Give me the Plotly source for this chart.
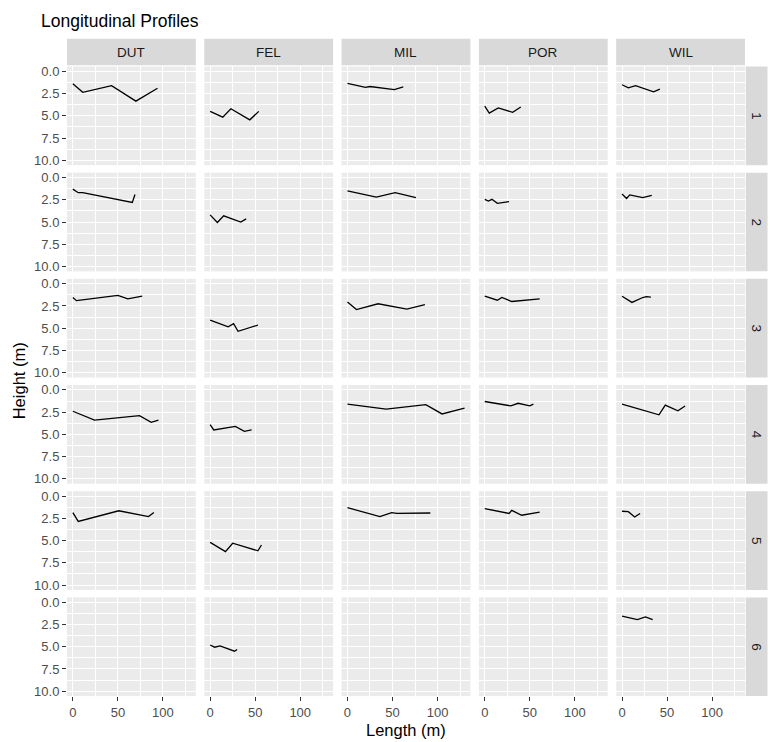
import plotly.graph_objects as go

# ---------------- data ----------------
SITES = ["DUT", "FEL", "MIL", "POR", "WIL"]
REACHES = [1, 2, 3, 4, 5, 6]

X_TICKS = [0, 50, 100]
X_TICK_TEXT = ["0", "50", "100"]
X_MINOR = [25, 75, 125]
Y_TICKS = [0, 2.5, 5, 7.5, 10]
Y_TICK_TEXT = ["0.0", "2.5", "5.0", "7.5", "10.0"]
Y_MINOR = [1.25, 3.75, 6.25, 8.75]

DUT_LEN = {1: [0, 11, 43, 70, 94], 2: [0, 6, 11, 66, 69], 3: [0, 4, 50, 61, 77],
           4: [0, 24, 74, 87, 95], 5: [0, 6, 51, 84, 90]}
DUT_HT = {1: [1.4, 2.35, 1.6, 3.35, 1.9], 2: [1.3, 1.7, 1.7, 2.8, 1.9], 3: [1.55, 1.9, 1.3, 1.7, 1.4],
          4: [2.4, 3.4, 2.9, 3.65, 3.4], 5: [1.85, 2.85, 1.65, 2.3, 1.85]}

FEL_LEN = {1: [0, 14, 23, 44, 54], 2: [0, 8, 15, 34, 40], 3: [0, 20, 26, 31, 53],
           4: [0, 4, 28, 38, 46], 5: [0, 17, 25, 53, 57], 6: [0, 5, 11, 27, 30]}
FEL_HT = {1: [4.5, 5.15, 4.2, 5.45, 4.5], 2: [4.2, 5.05, 4.3, 5.0, 4.65], 3: [4.1, 4.85, 4.5, 5.35, 4.65],
          4: [3.9, 4.5, 4.1, 4.65, 4.5], 5: [5.2, 6.25, 5.3, 6.15, 5.5], 6: [4.8, 5.05, 4.9, 5.5, 5.3]}

MIL_LEN = {1: [0, 20, 25, 52, 62], 2: [0, 32, 53, 76], 3: [0, 10, 34, 66, 86],
           4: [0, 43, 87, 105, 130], 5: [0, 36, 49, 55, 92]}
MIL_HT = {1: [1.35, 1.8, 1.7, 2.05, 1.75], 2: [1.5, 2.2, 1.7, 2.25], 3: [2.05, 2.9, 2.25, 2.85, 2.35],
          4: [1.6, 2.15, 1.65, 2.7, 2.05], 5: [1.3, 2.3, 1.85, 1.95, 1.9]}

POR_LEN = {1: [0, 5, 15, 31, 40], 2: [0, 4, 8, 14, 27], 3: [0, 14, 19, 30, 61],
           4: [0, 29, 37, 50, 54], 5: [0, 27, 30, 41, 61]}
POR_HT = {1: [3.9, 4.7, 4.1, 4.6, 4.0], 2: [2.45, 2.65, 2.45, 2.9, 2.7], 3: [1.4, 1.85, 1.55, 2.0, 1.7],
          4: [1.3, 1.8, 1.5, 1.8, 1.6], 5: [1.4, 1.95, 1.6, 2.15, 1.8]}

WIL_LEN = {1: [0, 7, 15, 35, 42], 2: [0, 5, 8.5, 23, 33], 3: [0, 11, 23, 27, 32],
           4: [0, 41, 48, 62, 70], 5: [0, 7, 14, 20], 6: [0, 17, 26, 34]}
WIL_HT = {1: [1.5, 1.85, 1.6, 2.3, 2.0], 2: [1.85, 2.35, 1.95, 2.25, 2.0], 3: [1.4, 2.1, 1.55, 1.45, 1.5],
          4: [1.6, 2.8, 1.7, 2.35, 1.8], 5: [1.7, 1.75, 2.35, 1.95], 6: [1.55, 1.95, 1.65, 1.95]}

LENGTHS = {"DUT": DUT_LEN, "FEL": FEL_LEN, "MIL": MIL_LEN, "POR": POR_LEN, "WIL": WIL_LEN}
HEIGHTS = {"DUT": DUT_HT, "FEL": FEL_HT, "MIL": MIL_HT, "POR": POR_HT, "WIL": WIL_HT}

# ---------------- layout geometry (px) ----------------
W, H = 770, 742
PANEL_L, PANEL_W, COL_STEP = 67.0, 128.8, 137.3
ROW_T, PANEL_H, ROW_STEP = 64.0, 99.5, 107.05
X_RANGE = [-6.5, 136.5]
Y_RANGE = [10.55, -0.55]
FONT = "Liberation Sans, Arial, sans-serif"
TICK_FONT = dict(family=FONT, size=13, color="#4D4D4D")

fig = go.Figure()
layout = {}
shapes = []
annotations = []

for r, reach in enumerate(REACHES):
    for c, site in enumerate(SITES):
        k = r * len(SITES) + c + 1
        sfx = "" if k == 1 else str(k)
        left = PANEL_L + c * COL_STEP
        right = left + PANEL_W
        top = ROW_T + r * ROW_STEP
        bot = top + PANEL_H
        layout["xaxis" + sfx] = dict(
            domain=[left / W, right / W], anchor="y" + sfx, range=X_RANGE,
            tickvals=X_TICKS, ticktext=X_TICK_TEXT,
            showticklabels=(r == len(REACHES) - 1),
            ticks="outside" if r == len(REACHES) - 1 else "",
            ticklen=4, tickwidth=1, tickcolor="#333333",
            tickfont=TICK_FONT,
            showgrid=True, gridcolor="white", gridwidth=1.1,
            minor=dict(tickvals=X_MINOR, showgrid=True, gridcolor="white", gridwidth=0.55),
            zeroline=False, showline=False, fixedrange=True,
        )
        layout["yaxis" + sfx] = dict(
            domain=[1 - bot / H, 1 - top / H], anchor="x" + sfx, range=Y_RANGE,
            tickvals=Y_TICKS, ticktext=Y_TICK_TEXT,
            showticklabels=(c == 0),
            ticks="outside" if c == 0 else "",
            ticklen=4, tickwidth=1, tickcolor="#333333",
            tickfont=TICK_FONT,
            showgrid=True, gridcolor="white", gridwidth=1.1,
            minor=dict(tickvals=Y_MINOR, showgrid=True, gridcolor="white", gridwidth=0.55),
            zeroline=False, showline=False, fixedrange=True,
        )
        xs = LENGTHS[site].get(reach)
        ys = HEIGHTS[site].get(reach)
        if not xs:
            xs, ys = [None], [None]  # empty panel, keeps axes drawn
        fig.add_trace(go.Scatter(
            x=xs, y=ys, mode="lines", line=dict(color="black", width=1.3),
            xaxis="x" + sfx, yaxis="y" + sfx, showlegend=False, hoverinfo="skip"))

# top strips
for c, site in enumerate(SITES):
    left = PANEL_L + c * COL_STEP
    right = left + PANEL_W
    shapes.append(dict(type="rect", xref="paper", yref="paper", x0=left / W, x1=right / W,
                       y0=1 - 62.8 / H, y1=1 - 36 / H, fillcolor="#D9D9D9", line=dict(width=0), layer="below"))
    annotations.append(dict(text=site, xref="paper", yref="paper", x=(left + right) / 2 / W,
                            y=1 - 49.5 / H, showarrow=False, xanchor="center", yanchor="middle",
                            font=dict(family=FONT, size=13.5, color="#1A1A1A")))

# right strips
for r, reach in enumerate(REACHES):
    top = ROW_T + r * ROW_STEP
    bot = top + PANEL_H
    shapes.append(dict(type="rect", xref="paper", yref="paper", x0=745.8 / W, x1=767.5 / W,
                       y0=1 - bot / H, y1=1 - top / H, fillcolor="#D9D9D9", line=dict(width=0), layer="below"))
    annotations.append(dict(text=str(reach), xref="paper", yref="paper", x=756.6 / W,
                            y=1 - (top + bot) / 2 / H, showarrow=False, textangle=90,
                            xanchor="center", yanchor="middle",
                            font=dict(family=FONT, size=13.5, color="#1A1A1A")))

# titles
annotations.append(dict(text="Longitudinal Profiles", xref="paper", yref="paper", x=39 / W, y=1 - 18 / H,
                        showarrow=False, xanchor="left", yanchor="middle",
                        font=dict(family=FONT, size=17.5, color="black")))
annotations.append(dict(text="Height (m)", xref="paper", yref="paper", x=19 / W,
                        y=1 - (ROW_T + 5 * ROW_STEP + PANEL_H + ROW_T) / 2 / H,
                        showarrow=False, textangle=-90, xanchor="center", yanchor="middle",
                        font=dict(family=FONT, size=16.5, color="black")))
annotations.append(dict(text="Length (m)", xref="paper", yref="paper",
                        x=(PANEL_L + 4 * COL_STEP + PANEL_W + PANEL_L) / 2 / W, y=1 - 733 / H,
                        showarrow=False, xanchor="center", yanchor="middle",
                        font=dict(family=FONT, size=16.5, color="black")))

fig.update_layout(
    width=W, height=H, margin=dict(l=0, r=0, t=0, b=0),
    paper_bgcolor="white", plot_bgcolor="#EBEBEB",
    shapes=shapes, annotations=annotations, showlegend=False,
    **layout,
)

fig.write_html("out.html")
